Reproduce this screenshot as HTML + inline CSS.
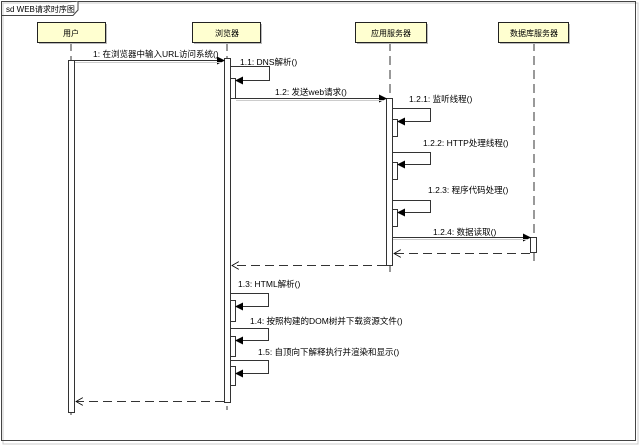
<!DOCTYPE html>
<html><head><meta charset="utf-8"><style>
html,body{margin:0;padding:0;background:#fff;}
svg{display:block;}
text{font-family:"Liberation Sans","Noto Sans CJK SC",sans-serif;font-size:8.5px;fill:#000;}
</style></head><body>
<svg width="640" height="446" viewBox="0 0 640 446" xmlns="http://www.w3.org/2000/svg">
<defs>
<marker id="a" markerWidth="8" markerHeight="8" refX="7" refY="4" orient="auto" markerUnits="userSpaceOnUse"><path d="M0,0 L8,4 L0,8 Z" fill="#000"/></marker>
<marker id="o" markerWidth="8" markerHeight="8" refX="7" refY="4" orient="auto" markerUnits="userSpaceOnUse"><path d="M0,0 L7,4 L0,8" fill="none" stroke="#000" stroke-width="0.8"/></marker>
</defs>
<rect x="3" y="3" width="635" height="441" fill="none" stroke="#ccc"/>
<rect x="1.5" y="1.5" width="634" height="439" fill="none" stroke="#444"/>
<path d="M1.5,15.5 H73 L78,10 V1.5" fill="#fff" stroke="#444"/>
<text x="6" y="12" style="font-size:8px">sd WEB请求时序图</text>

<g stroke="#333" stroke-dasharray="9,5" stroke-width="1">
<line x1="71" y1="42" x2="71" y2="420"/>
<line x1="227" y1="42" x2="227" y2="410"/>
<line x1="390" y1="42" x2="390" y2="272"/>
<line x1="534" y1="42" x2="534" y2="265"/>
</g>

<g>
<rect x="39" y="24" width="68" height="20" fill="#bbb"/>
<rect x="37.5" y="22.5" width="68" height="20" fill="#ffffd0" stroke="#222"/>
<text x="71" y="36" text-anchor="middle" style="font-size:8px">用户</text>
<rect x="194" y="24" width="68" height="20" fill="#bbb"/>
<rect x="192.5" y="22.5" width="68" height="20" fill="#ffffd0" stroke="#222"/>
<text x="227" y="36" text-anchor="middle" style="font-size:8px">浏览器</text>
<rect x="357" y="24" width="71" height="20" fill="#bbb"/>
<rect x="355.5" y="22.5" width="71" height="20" fill="#ffffd0" stroke="#222"/>
<text x="391" y="36" text-anchor="middle" style="font-size:8px">应用服务器</text>
<rect x="500" y="24" width="70" height="20" fill="#bbb"/>
<rect x="498.5" y="22.5" width="70" height="20" fill="#ffffd0" stroke="#222"/>
<text x="534" y="36" text-anchor="middle" style="font-size:8px">数据库服务器</text>
</g>

<g fill="#fff" stroke="#333">
<rect x="68.5" y="60.5" width="6" height="352"/>
<rect x="224.5" y="58.5" width="6" height="344"/>
<rect x="230.5" y="78.5" width="5" height="20"/>
<rect x="386.5" y="98.5" width="6" height="167"/>
<rect x="392.5" y="119.5" width="5" height="17"/>
<rect x="392.5" y="162.5" width="5" height="17"/>
<rect x="392.5" y="209.5" width="5" height="17"/>
<rect x="530.5" y="237.5" width="6" height="15"/>
<rect x="230.5" y="300.5" width="5" height="21"/>
<rect x="230.5" y="336.5" width="5" height="20"/>
<rect x="230.5" y="366.5" width="5" height="19"/>
</g>

<g stroke="#333" stroke-width="1" fill="none">
<line x1="75" y1="60.5" x2="224" y2="60.5" marker-end="url(#a)"/>
<line x1="75" y1="62.5" x2="222" y2="62.5" stroke="#ccc"/>
<polyline points="231,66.5 269.5,66.5 269.5,80.5 236,80.5" marker-end="url(#a)"/>
<line x1="236" y1="98.5" x2="386" y2="98.5" marker-end="url(#a)"/>
<line x1="236" y1="100.5" x2="384" y2="100.5" stroke="#ccc"/>
<polyline points="393,108.5 430.5,108.5 430.5,121.5 398,121.5" marker-end="url(#a)"/>
<polyline points="393,152.5 430.5,152.5 430.5,164.5 398,164.5" marker-end="url(#a)"/>
<polyline points="393,200.5 430.5,200.5 430.5,212.5 398,212.5" marker-end="url(#a)"/>
<line x1="393" y1="237.5" x2="530" y2="237.5" marker-end="url(#a)"/>
<line x1="393" y1="239.5" x2="528" y2="239.5" stroke="#ccc"/>
<line x1="530" y1="253.5" x2="394" y2="253.5" stroke-dasharray="9,5" marker-end="url(#o)"/>
<line x1="386" y1="265.5" x2="232" y2="265.5" stroke-dasharray="9,5" marker-end="url(#o)"/>
<polyline points="231,293.5 268.5,293.5 268.5,306.5 236,306.5" marker-end="url(#a)"/>
<polyline points="231,328.5 268.5,328.5 268.5,340.5 236,340.5" marker-end="url(#a)"/>
<polyline points="231,360.5 268.5,360.5 268.5,373.5 236,373.5" marker-end="url(#a)"/>
<line x1="224" y1="401.5" x2="76" y2="401.5" stroke-dasharray="9,5" marker-end="url(#o)"/>
</g>

<text x="93" y="57">1: 在浏览器中输入URL访问系统()</text>
<text x="240" y="65">1.1: DNS解析()</text>
<text x="275" y="95">1.2: 发送web请求()</text>
<text x="409" y="102">1.2.1: 监听线程()</text>
<text x="423" y="146">1.2.2: HTTP处理线程()</text>
<text x="428" y="193">1.2.3: 程序代码处理()</text>
<text x="433" y="235">1.2.4: 数据读取()</text>
<text x="238" y="287">1.3: HTML解析()</text>
<text x="250" y="324">1.4: 按照构建的DOM树并下载资源文件()</text>
<text x="258" y="355">1.5: 自顶向下解释执行并渲染和显示()</text>
</svg>
</body></html>
